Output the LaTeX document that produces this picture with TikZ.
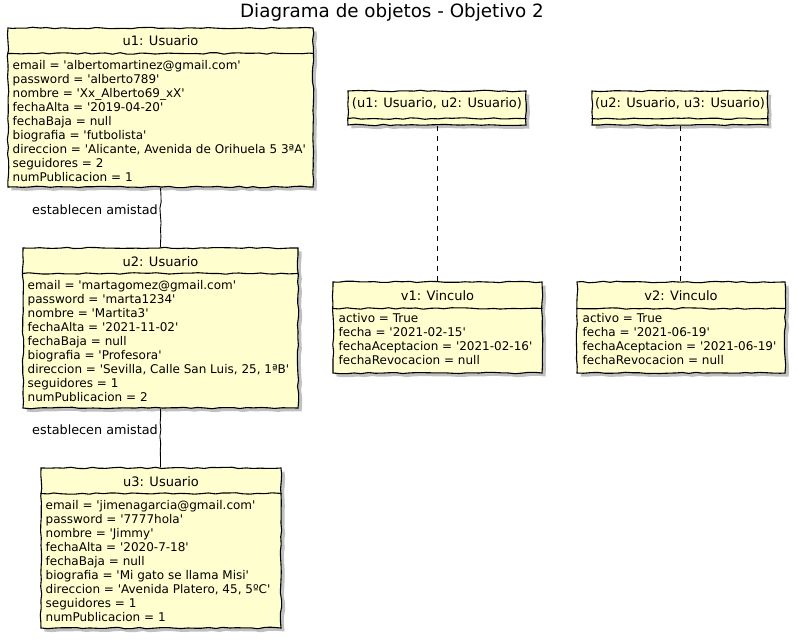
\documentclass[tikz,border=0pt]{standalone}
\usepackage{fontspec}
\setmainfont{DejaVu Sans}[Ligatures=TeXOff]
\usetikzlibrary{shadows,decorations.pathmorphing}
\definecolor{objfill}{HTML}{FEFECE}
\begin{document}
\pgfmathsetseed{7}
\begin{tikzpicture}[x=1pt,y=-1pt,
  wob/.style={decorate,decoration={random steps,segment length=7pt,amplitude=0.75pt}},
  obj/.style={draw=black, line width=1.1pt, fill=objfill, inner sep=0pt, wob,
    drop shadow={shadow xshift=3.5pt,shadow yshift=-3.5pt,fill=black!45,opacity=0.55}},
  ttl/.style={font=\fontsize{13}{15}\selectfont, inner sep=0pt},
  attr/.style={font=\fontsize{12}{14}\selectfont, align=left, anchor=north west, inner sep=0pt},
  lbl/.style={font=\fontsize{12.8}{15}\selectfont, inner sep=0pt},
  sep/.style={line width=1.1pt, wob},
  link/.style={line width=0.9pt, wob},
  dlink/.style={line width=0.9pt, dash pattern=on 5pt off 5pt}]
\useasboundingbox (0,0) rectangle (797,640);

\node[font=\fontsize{18.3}{21}\selectfont, inner sep=0pt] (title) at (392,12) {Diagrama de objetos - Objetivo 2};

% u1
\node[obj, minimum width=305pt, minimum height=159pt] (u1) at (160.5,107.5) {};
\draw[sep] ([yshift=-26pt]u1.north west) -- ([yshift=-26pt]u1.north east);
\node[ttl] (u1t) at ([yshift=-13pt]u1.north) {u1: Usuario};
\node[attr] (u1a) at ([xshift=5pt,yshift=-32.5pt]u1.north west) {email = 'albertomartinez@gmail.com'\\password = 'alberto789'\\nombre = 'Xx\_Alberto69\_xX'\\fechaAlta = '2019-04-20'\\fechaBaja = null\\biografia = 'futbolista'\\direccion = 'Alicante, Avenida de Orihuela 5 3ªA'\\seguidores = 2\\numPublicacion = 1};

% u2
\node[obj, minimum width=275pt, minimum height=160pt] (u2) at (160.5,328) {};
\draw[sep] ([yshift=-26pt]u2.north west) -- ([yshift=-26pt]u2.north east);
\node[ttl] (u2t) at ([yshift=-14pt]u2.north) {u2: Usuario};
\node[attr] (u2a) at ([xshift=5pt,yshift=-32.5pt]u2.north west) {email = 'martagomez@gmail.com'\\password = 'marta1234'\\nombre = 'Martita3'\\fechaAlta = '2021-11-02'\\fechaBaja = null\\biografia = 'Profesora'\\direccion = 'Sevilla, Calle San Luis, 25, 1ªB'\\seguidores = 1\\numPublicacion = 2};

% u3
\node[obj, minimum width=240pt, minimum height=160pt] (u3) at (161,548) {};
\draw[sep] ([yshift=-26pt]u3.north west) -- ([yshift=-26pt]u3.north east);
\node[ttl] (u3t) at ([yshift=-14pt]u3.north) {u3: Usuario};
\node[attr] (u3a) at ([xshift=5pt,yshift=-32.5pt]u3.north west) {email = 'jimenagarcia@gmail.com'\\password = '7777hola'\\nombre = 'Jimmy'\\fechaAlta = '2020-7-18'\\fechaBaja = null\\biografia = 'Mi gato se llama Misi'\\direccion = 'Avenida Platero, 45, 5ºC'\\seguidores = 1\\numPublicacion = 1};

% pair boxes
\node[obj, minimum width=178pt, minimum height=34pt] (p1) at (437,108) {};
\draw[sep] ([yshift=7pt]p1.south west) -- ([yshift=7pt]p1.south east);
\node[ttl] (p1t) at ([yshift=-13pt]p1.north) {(u1: Usuario, u2: Usuario)};

\node[obj, minimum width=176pt, minimum height=34pt] (p2) at (680,108) {};
\draw[sep] ([yshift=7pt]p2.south west) -- ([yshift=7pt]p2.south east);
\node[ttl] (p2t) at ([yshift=-13pt]p2.north) {(u2: Usuario, u3: Usuario)};

% v1
\node[obj, minimum width=209pt, minimum height=91pt] (v1) at (437.5,327.5) {};
\draw[sep] ([yshift=-27pt]v1.north west) -- ([yshift=-27pt]v1.north east);
\node[ttl] (v1t) at ([yshift=-14pt]v1.north) {v1: Vinculo};
\node[attr] (v1a) at ([xshift=6pt,yshift=-32pt]v1.north west) {activo = True\\fecha = '2021-02-15'\\fechaAceptacion = '2021-02-16'\\fechaRevocacion = null};

% v2
\node[obj, minimum width=208pt, minimum height=91pt] (v2) at (681,327.5) {};
\draw[sep] ([yshift=-27pt]v2.north west) -- ([yshift=-27pt]v2.north east);
\node[ttl] (v2t) at ([yshift=-14pt]v2.north) {v2: Vinculo};
\node[attr] (v2a) at ([xshift=6pt,yshift=-32pt]v2.north west) {activo = True\\fecha = '2021-06-19'\\fechaAceptacion = '2021-06-19'\\fechaRevocacion = null};

% connectors
\draw[link] (u1.south) -- (u1.south |- u2.north);
\node[lbl, anchor=east] (l1) at (158,210) {establecen amistad};
\draw[link] (u2.south) -- (u2.south |- u3.north);
\node[lbl, anchor=east] (l2) at (158,430) {establecen amistad};
\draw[dlink] (p1.south) -- (p1.south |- v1.north);
\draw[dlink] (p2.south) -- (p2.south |- v2.north);
\end{tikzpicture}
\end{document}
